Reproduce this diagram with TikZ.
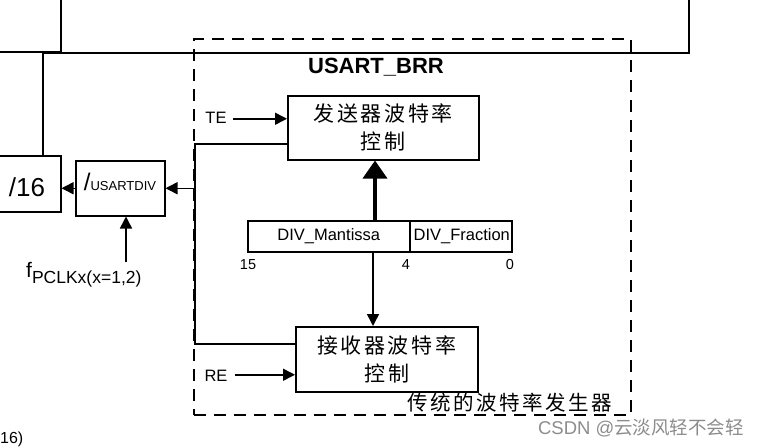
\documentclass[tikz,border=0pt]{standalone}
\usepackage{fontspec}
\setmainfont{Liberation Sans}
\newfontfamily\cjk{Noto Sans CJK SC}
\newfontfamily\cjksp[LetterSpace=12]{Noto Sans CJK SC}
\usetikzlibrary{arrows.meta}
\tikzset{
  box/.style={draw, line width=1.5pt, inner sep=0pt, anchor=north west},
  conn/.style={line width=1.5pt},
  arr/.style={line width=1.5pt, -{Triangle[length=12pt,width=12pt]}},
  thickarr/.style={line width=3.5pt, -{Triangle[length=18pt,width=24pt]}},
  lbl/.style={inner sep=0pt, font=\fontsize{16.5}{16.5}\selectfont},
  cjkbox/.style={box, align=center, font=\cjksp\fontsize{21}{28}\selectfont},
  reg/.style={box, minimum height=31pt, font=\fontsize{16.5}{16.5}\selectfont},
  bitlbl/.style={inner sep=0pt, font=\fontsize{14.5}{14.5}\selectfont},
}
\begin{document}
\begin{tikzpicture}[x=1pt,y=-1pt]
\useasboundingbox (0,0) rectangle (762,447);
\clip (0,0) rectangle (762,447);

% dashed generator frame
\node[box, dashed, dash pattern=on 12pt off 8pt, line width=2pt, minimum width=437pt, minimum height=376pt] (brr) at (193,38) {};

% partial boxes on the left / top
\node[box, minimum width=100pt, minimum height=91pt] (tl) at (-40,-40) {};
\node[box, minimum width=90pt, minimum height=56pt] (d16) at (-30,155) {};
\node[inner sep=0pt, font=\fontsize{26}{26}\selectfont] (d16t) at (27,187) {/16};
\coordinate (topend) at (689,-5);
\draw[line width=1.2pt] (d16.north -| 43,0) -- (43,53) -- (topend |- 0,53) -- (topend);

% /USARTDIV
\node[box, minimum width=89pt, minimum height=55pt] (ud) at (75,160) {};
\node[inner sep=0pt] (udt) at (120,182) {{\fontsize{24}{24}\selectfont /}{\fontsize{13}{13}\selectfont USARTDIV}};
\draw[arr] (ud.west) -- (d16.east |- ud.west);

% fPCLK
\coordinate (fp) at (126,262);
\draw[arr] (fp) -- (fp |- ud.south);
\node[inner sep=0pt, anchor=west] (fpl) at (26,275) {{\fontsize{21}{21}\selectfont f}{\fontsize{17.5}{17.5}\selectfont\raisebox{-6pt}{PCLKx(x=1,2)}}};

% title
\node[inner sep=0pt, font=\bfseries\fontsize{22}{22}\selectfont] (title) at (376,67) {USART\_BRR};

% transmitter / receiver
\node[cjkbox, minimum width=191pt, minimum height=64pt] (tx) at (287,95) {发送器波特率\\控制};
\node[cjkbox, minimum width=182pt, minimum height=65pt] (rx) at (295,326) {接收器波特率\\控制};

\coordinate (txin) at ([yshift=9pt]tx.west);
\coordinate (txout) at ([yshift=-16pt]tx.west);
\coordinate (rxin) at ([yshift=-15.5pt]rx.west);
\coordinate (rxout) at ([yshift=15.5pt]rx.west);

% TE / RE
\node[lbl] (te) at (216,118) {TE};
\coordinate (tes) at ([xshift=-54pt]txin);
\draw[arr] (tes) -- (txin);
\node[lbl] (re) at (216,376) {RE};
\coordinate (res) at ([xshift=-60pt]rxin);
\draw[arr] (res) -- (rxin);

% feedback lines
\coordinate (vl) at (195,0);
\draw[conn] (txout) -- (vl |- txout) -- (vl |- rxout) -- (rxout);
\draw[arr] (vl |- ud.east) -- (ud.east);

% register
\node[reg, minimum width=162pt] (mant) at (247,220) {DIV\_Mantissa};
\node[reg, minimum width=102pt] (frac) at (409,220) {\hspace*{2pt}DIV\_Fraction};
\node[bitlbl] (b15) at (248,265) {15};
\node[bitlbl] (b4) at (406,265) {4};
\node[bitlbl] (b0) at (510,265) {0};

\coordinate (ta) at (375,0);
\draw[thickarr] (ta |- mant.north) -- (ta |- tx.south);
\coordinate (ra) at (373,0);
\draw[arr] (ra |- mant.south) -- (ra |- rx.north);

% captions
\node[inner sep=0pt, font=\cjksp\fontsize{20.5}{20.5}\selectfont] (gen) at (510,403) {传统的波特率发生器};
\node[inner sep=0pt, anchor=west, font=\fontsize{16}{16}\selectfont] (x16) at (0,439) {16)};
\node[inner sep=0pt, text=black!45, font=\fontsize{18.5}{18.5}\selectfont] (wm) at (641,428) {CSDN @{\cjk 云淡风轻不会轻}};
\end{tikzpicture}
\end{document}
